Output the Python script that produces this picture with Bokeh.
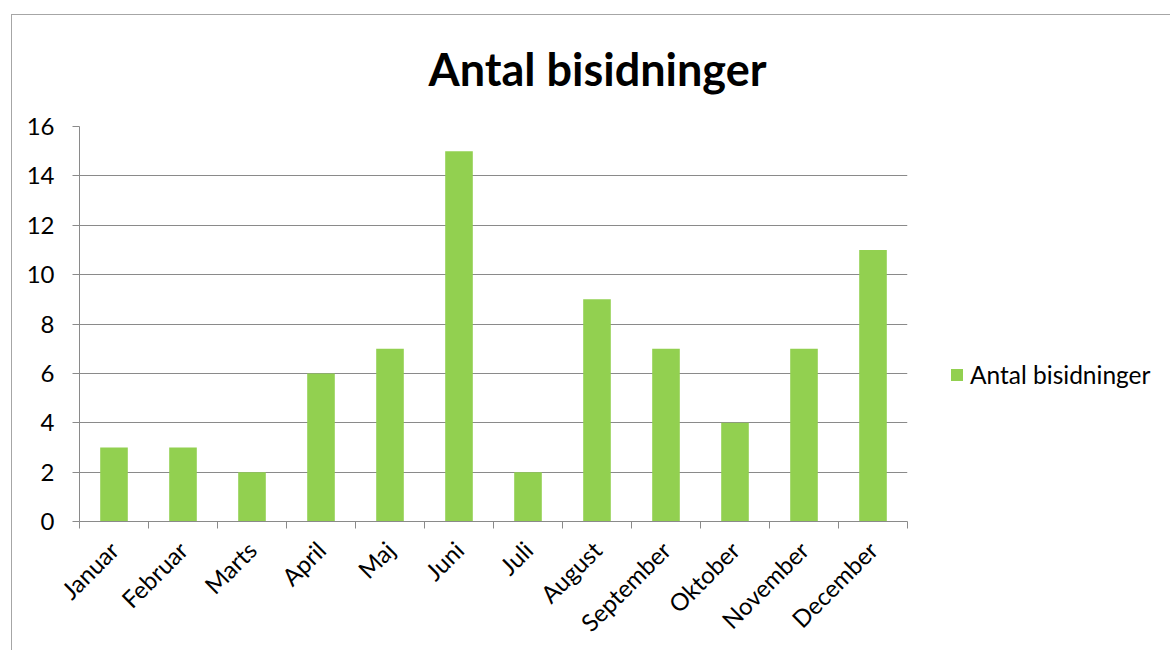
from bokeh.plotting import figure
from bokeh.models import (FixedTicker, Legend, LegendItem, Title, Range1d,
                          ColumnDataSource)
from bokeh.embed import file_html
from bokeh.resources import INLINE
import math

months = ["Januar", "Februar", "Marts", "April", "Maj", "Juni", "Juli",
          "August", "September", "Oktober", "November", "December"]
counts = [3, 3, 2, 6, 7, 15, 2, 9, 7, 4, 7, 11]
y_ticks = [0, 2, 4, 6, 8, 10, 12, 14, 16]
series_name = "Antal bisidninger"
title_text = "Antal bisidninger"

FONT = "Lato"
GRID = "#8a8a8a"
GREEN = "#92D050"

xpos = [i + 0.5 for i in range(len(months))]
src = ColumnDataSource(dict(x=xpos, top=counts, month=months))

p = figure(frame_width=828, frame_height=395, output_backend="svg",
           toolbar_location=None,
           x_range=Range1d(0, len(months)), y_range=Range1d(0, 16),
           min_border_left=79, min_border_right=255, min_border_top=126,
           min_border_bottom=126)
p.outline_line_color = None
p.background_fill_color = "white"
p.border_fill_alpha = 0
p.styles = {"box-shadow": "inset 11px 14px 0 0 white, inset 12px 15px 0 0 #a6a6a6",
            "background-color": "white"}

r = p.vbar(x="x", top="top", bottom=0, width=0.4, source=src,
           fill_color=GREEN, line_color=None)

# x axis
xa = p.xaxis[0]
xa.ticker = FixedTicker(ticks=xpos, minor_ticks=list(range(len(months) + 1)))
xa.major_label_overrides = {x: m for x, m in zip(xpos, months)}
xa.major_label_orientation = math.pi / 4
xa.major_tick_out = 0
xa.major_tick_in = 0
xa.minor_tick_out = 7
xa.minor_tick_in = 0
xa.minor_tick_line_color = GRID
xa.axis_line_color = GRID
xa.major_label_text_font = FONT
xa.major_label_text_font_size = "24px"
xa.major_label_text_color = "black"
xa.major_label_standoff = 17

# y axis
ya = p.yaxis[0]
ya.ticker = FixedTicker(ticks=y_ticks)
ya.major_tick_out = 7
ya.major_tick_in = 0
ya.minor_tick_out = 0
ya.minor_tick_in = 0
ya.major_tick_line_color = GRID
ya.axis_line_color = GRID
ya.major_label_text_font = FONT
ya.major_label_text_font_size = "24px"
ya.major_label_text_color = "black"
ya.major_label_standoff = 18

p.xgrid.visible = False
p.ygrid.ticker = FixedTicker(ticks=y_ticks)
p.ygrid.grid_line_color = GRID
p.ygrid.grid_line_width = 1

# title
t = Title(text=title_text, align="left", offset=349, standoff=62,
          text_font=FONT, text_font_size="45px", text_font_style="bold",
          text_color="black")
p.add_layout(t, "above")

legend = Legend(items=[LegendItem(label=series_name, renderers=[r])],
                location=(42, 132), glyph_width=15, glyph_height=15,
                label_text_font=FONT, label_text_font_size="24.5px",
                label_text_color="black", label_standoff=6, padding=2,
                margin=0, border_line_color=None, background_fill_alpha=0)
p.add_layout(legend, "right")

open("out.html", "w").write(file_html(p, INLINE))
